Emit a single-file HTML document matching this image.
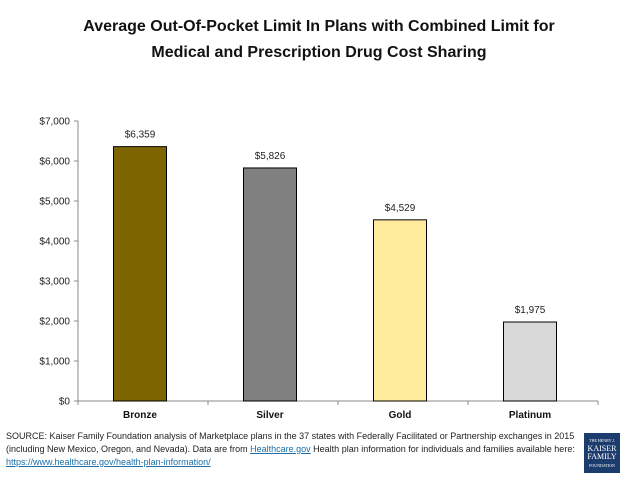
<!DOCTYPE html>
<html><head><meta charset="utf-8"><style>
body{margin:0;width:638px;height:479px;background:#fff;font-family:"Liberation Sans",sans-serif;overflow:hidden;position:relative}
#title{position:absolute;top:14px;left:0;width:638px;text-align:center;font-weight:bold;font-size:16px;line-height:26px;color:#111}
#src{position:absolute;left:6px;top:430px;width:570px;font-size:9px;line-height:13px;color:#222}
#src a{color:#1a6fa8;text-decoration:underline}
#logo{position:absolute;left:584px;top:433px;width:36px;height:40px;background:#1d3c6e;color:#fff;font-family:"Liberation Serif",serif;text-align:center;font-size:8px;line-height:8px;padding-top:3px;box-sizing:border-box}
</style></head><body>
<div id="title">Average Out-Of-Pocket Limit In Plans with Combined Limit for<br>Medical and Prescription Drug Cost Sharing</div>
<svg id="chart" width="638" height="479" style="position:absolute;left:0;top:0"></svg>
<div id="src">SOURCE: Kaiser Family Foundation analysis of Marketplace plans in the 37 states with Federally Facilitated or Partnership exchanges in 2015 (including New Mexico, Oregon, and Nevada). Data are from <a>Healthcare.gov</a> Health plan information for individuals and families available here: <a>https://www.healthcare.gov/health-plan-information/</a></div>
<div id="logo"><span style="font-size:4px">THE HENRY J.</span><br>KAISER<br>FAMILY<br><span style="font-size:4px">FOUNDATION</span></div>
<script>
const categories=["Bronze","Silver","Gold","Platinum"];
const values=[6359,5826,4529,1975];
const labels=["$6,359","$5,826","$4,529","$1,975"];
const colors=["#7f6500","#808080","#ffeb99","#d9d9d9"];
const ticks=[0,1000,2000,3000,4000,5000,6000,7000];
const tickLabels=["$0","$1,000","$2,000","$3,000","$4,000","$5,000","$6,000","$7,000"];
const svg=document.getElementById('chart');
const NS='http://www.w3.org/2000/svg';
const x0=78,x1=598,y0=401,y1=121,maxV=7000;
const y=v=>y0-(v/maxV)*(y0-y1);
const bw=(x1-x0)/categories.length;
function mk(t,a){const e=document.createElementNS(NS,t);for(const k in a)e.setAttribute(k,a[k]);svg.appendChild(e);return e;}
const ax=mk('line',{x1:x0,y1:y1,x2:x0,y2:y0,stroke:'#888'});


const bx=mk('line',{x1:x0,y1:y0,x2:x1,y2:y0,stroke:'#888'});


ticks.forEach((t,i)=>{
  mk('line',{x1:x0-4,y1:y(t),x2:x0,y2:y(t),stroke:'#888'});
  const tx=mk('text',{x:x0-8,y:y(t)+3.5,'text-anchor':'end','font-size':'10',fill:'#222'});
  tx.textContent=tickLabels[i];
  
  
});
for(let i=0;i<=categories.length;i++)mk('line',{x1:x0+i*bw,y1:y0,x2:x0+i*bw,y2:y0+4,stroke:'#888'});
categories.forEach((c,i)=>{
  const cx=x0+bw*(i+0.5)-3,w=53;
  const r=mk('rect',{x:cx-w/2,y:y(values[i]),width:w,height:y0-y(values[i]),fill:colors[i],stroke:'#000','stroke-width':1});
  
  
  const l=mk('text',{x:cx,y:y(values[i])-9,'text-anchor':'middle','font-size':'10',fill:'#222'});
  l.textContent=labels[i];
  
  
  const cl=mk('text',{x:cx,y:y0+17,'text-anchor':'middle','font-size':'10','font-weight':'bold',fill:'#111'});
  cl.textContent=c;
  
  
});
</script>
</body></html>
